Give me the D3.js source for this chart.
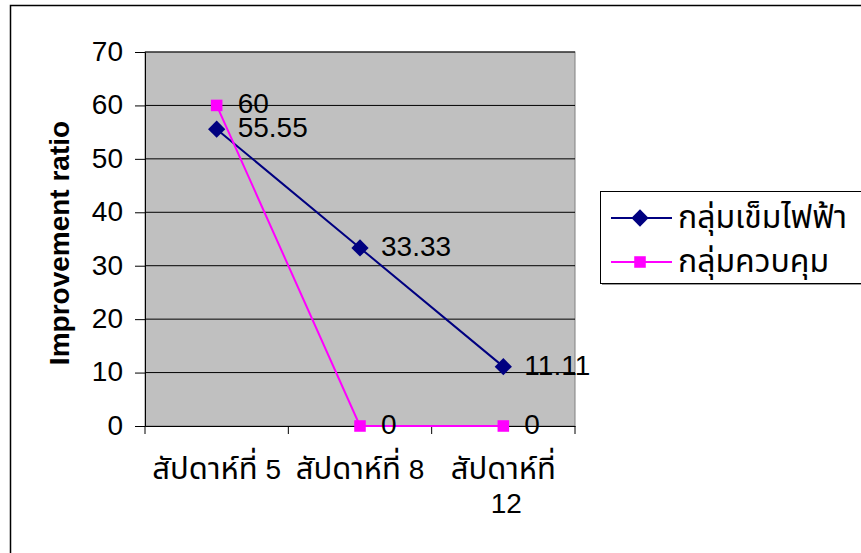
<!DOCTYPE html>
<html>
<head>
<meta charset="utf-8">
<script src="https://cdn.jsdelivr.net/npm/d3@7"></script>
<style>
  body { margin: 0; background: #fff; }
  text { font-family: "Liberation Sans", Arial, "Noto Sans Thai", "Noto Sans", sans-serif; fill: #000; }
</style>
</head>
<body>
<div id="chart"></div>
<script>
var categories = ['สัปดาห์ที่ 5', 'สัปดาห์ที่ 8', 'สัปดาห์ที่ 12'];
var needleGroup = [55.55, 33.33, 11.11];   // กลุ่มเข็มไฟฟ้า
var controlGroup = [60, 0, 0];             // กลุ่มควบคุม
var yTicks = [0, 10, 20, 30, 40, 50, 60, 70];
var seriesNames = ['กลุ่มเข็มไฟฟ้า', 'กลุ่มควบคุม'];

var width = 861, height = 553;
var pLeft = 145, pRight = 575, pTop = 52, pBottom = 426;

var svg = d3.select('#chart').append('svg')
  .attr('width', width)
  .attr('height', height);

// outer chart frame
svg.append('rect')
  .attr('x', 10.5).attr('y', 5.5)
  .attr('width', 870).attr('height', 570)
  .attr('fill', '#fff')
  .attr('stroke', '#000').attr('stroke-width', 1.5);

var x = d3.scaleBand().domain(categories).range([pLeft, pRight]);
var y = d3.scaleLinear().domain([0, 70]).range([pBottom, pTop]);

// plot area
svg.append('rect')
  .attr('x', pLeft).attr('y', pTop)
  .attr('width', pRight - pLeft).attr('height', pBottom - pTop)
  .attr('fill', '#c0c0c0')
  .attr('stroke', '#808080');

// gridlines
svg.append('g').selectAll('line')
  .data(yTicks.slice(1))
  .enter().append('line')
  .attr('x1', pLeft).attr('x2', pRight)
  .attr('y1', d => y(d)).attr('y2', d => y(d))
  .attr('stroke', '#000').attr('stroke-width', 1);

// y axis
var yAxis = svg.append('g')
  .attr('transform', 'translate(' + pLeft + ',0)')
  .call(d3.axisLeft(y).tickValues(yTicks).tickSize(10).tickPadding(12));
yAxis.select('.domain').attr('stroke', '#000');
yAxis.selectAll('text').style('font-size', '28px').attr('dy', '0.3em');

// x axis
var xAxis = svg.append('g')
  .attr('transform', 'translate(0,' + pBottom + ')')
  .call(d3.axisBottom(x).tickSizeInner(0).tickSizeOuter(0).tickFormat(''));
xAxis.select('.domain').attr('stroke', '#000');
var edges = [pLeft].concat(categories.map(c => x(c) + x.bandwidth()));
xAxis.selectAll('.edge').data(edges).enter().append('line')
  .attr('x1', d => d).attr('x2', d => d)
  .attr('y1', 0).attr('y2', 8)
  .attr('stroke', '#000');

// category labels (wrapped like the original); Thai word a touch larger
var catLines = [[['สัปดาห์ที่', ' 5']], [['สัปดาห์ที่', ' 8']], [['สัปดาห์ที่', ''], ['', '12']]];
categories.forEach(function(c, i) {
  var mid = x(c) + x.bandwidth() / 2;
  catLines[i].forEach(function(parts, j) {
    var t = svg.append('text')
      .attr('x', mid + (j ? 3 : 0))
      .attr('y', 479 + j * 34)
      .attr('text-anchor', 'middle');
    t.append('tspan').style('font-size', '31px').text(parts[0]);
    t.append('tspan').style('font-size', '28px').text(parts[1]);
  });
});

// axis title
svg.append('text')
  .attr('transform', 'translate(69,243) rotate(-90)')
  .attr('text-anchor', 'middle')
  .style('font-size', '28px')
  .style('font-weight', 'bold')
  .text('Improvement ratio');

var cx = d => x(d) + x.bandwidth() / 2;
var line = d3.line().x(d => cx(d[0])).y(d => y(d[1]));

var series = [
  { name: seriesNames[0], values: needleGroup, color: '#000080', symbol: d3.symbolDiamond2, size: 190 },
  { name: seriesNames[1], values: controlGroup, color: '#ff00ff', symbol: d3.symbolSquare2, size: 170 }
];

series.forEach(function(s) {
  var pts = categories.map((c, i) => [c, s.values[i]]);
  svg.append('path')
    .datum(pts)
    .attr('d', line)
    .attr('fill', 'none')
    .attr('stroke', s.color)
    .attr('stroke-width', 2);
  svg.append('g').selectAll('path')
    .data(pts).enter().append('path')
    .attr('transform', d => 'translate(' + cx(d[0]) + ',' + y(d[1]) + ')')
    .attr('d', d3.symbol().type(s.symbol).size(s.size))
    .attr('fill', s.color);
});

// data labels
series.forEach(function(s) {
  svg.append('g').selectAll('text')
    .data(categories.map((c, i) => [c, s.values[i]]))
    .enter().append('text')
    .attr('x', d => cx(d[0]) + 21)
    .attr('y', d => y(d[1]) + 8)
    .style('font-size', '28px')
    .text(d => d[1]);
});

// legend
var lg = svg.append('g').attr('transform', 'translate(600,191)');
lg.append('rect')
  .attr('x', 2).attr('y', 2)
  .attr('width', 270).attr('height', 92)
  .attr('fill', '#999');
lg.append('rect')
  .attr('x', 0.5).attr('y', 0.5)
  .attr('width', 270).attr('height', 92)
  .attr('fill', '#fff')
  .attr('stroke', '#000');
series.forEach(function(s, i) {
  var yy = 27 + i * 44;
  lg.append('line')
    .attr('x1', 11).attr('x2', 72)
    .attr('y1', yy).attr('y2', yy)
    .attr('stroke', s.color).attr('stroke-width', 2);
  lg.append('path')
    .attr('transform', 'translate(40,' + yy + ')')
    .attr('d', d3.symbol().type(s.symbol).size(s.size))
    .attr('fill', s.color);
  lg.append('text')
    .attr('x', 78).attr('y', yy + 10)
    .style('font-size', '32px')
    .text(s.name);
});
</script>
</body>
</html>
